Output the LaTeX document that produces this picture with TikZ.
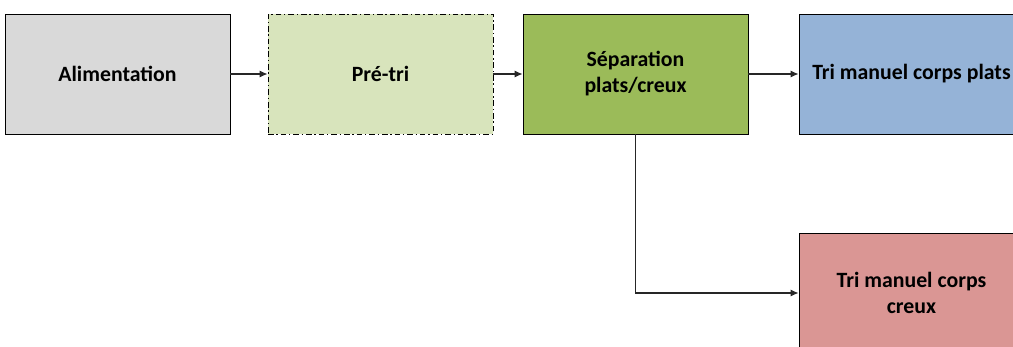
\documentclass[tikz,border=0pt]{standalone}
\usepackage{fontspec}
\setmainfont{Carlito}
\usepackage{tikz}
\usetikzlibrary{arrows,arrows.meta,positioning,shapes}
\definecolor{grisbox}{HTML}{D9D9D9}
\definecolor{vertclair}{HTML}{D8E4BC}
\definecolor{vertbox}{HTML}{9BBB59}
\definecolor{bleubox}{HTML}{95B3D7}
\definecolor{rougebox}{HTML}{DA9694}
\begin{document}
\begin{tikzpicture}[x=0.025cm, y=-0.025cm, semithick]
   \useasboundingbox (0,0) rectangle (1013,347);
   \clip (0,0) rectangle (1013,347);
   \begin{scope}[every node/.style={rectangle,draw=black,minimum width=5.625cm,minimum height=3cm,align=center,font=\fontsize{15.5}{18.5}\selectfont\bfseries}]
    \node (ali) [fill=grisbox] at (117.5,74) {Alimentation};
    \node (pre) [fill=vertclair, dash pattern=on 4pt off 2pt on 1pt off 2pt] at (380.5,74) {Pré-tri};
    \node (sep) [fill=vertbox] at (635.5,74) {Séparation\\plats/creux};
    \node (plats) [fill=bleubox] at (911.5,74) {Tri manuel corps plats};
    \node (creux) [fill=rougebox] at (911.5,293) {Tri manuel corps\\creux};
   \end{scope}
   \begin{scope}[-{Latex[length=2mm,width=1.8mm]}, black!85, thick]
    \draw (ali) -- (pre);
    \draw (pre) -- (sep);
    \draw (sep) -- (plats);
    \draw (sep.south) |- (creux.west);
   \end{scope}
\end{tikzpicture}
\end{document}
